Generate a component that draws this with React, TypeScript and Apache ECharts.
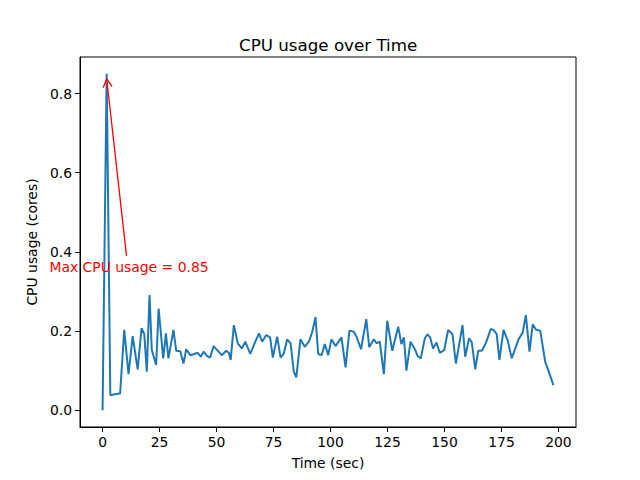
import React, { useEffect, useRef } from "react";
import * as echarts from "echarts";

const times: number[] = [
  0, 1.8, 3.4, 5.4, 7.7, 9.5, 11.4, 13.2, 15.4, 17.1, 18.3, 19.4, 20.6, 21.6, 23.5, 24.6, 26.6, 27.8, 28.9,
  31.1, 32.3, 34.1, 35.5, 36.7, 38.5, 40.2, 41.8, 43.1, 44.3, 45.8, 47.2, 48.7, 50.6, 52.3, 54.2, 55.4,
  56.2, 57.6, 59.3, 61.1, 62.6, 64.8, 66.7, 68.6, 70.0, 71.8, 73.5, 74.7, 76.6, 78.1, 79.5, 81.0, 82.5,
  83.9, 85.0, 86.8, 88.7, 90.5, 92.0, 93.4, 94.6, 96.1, 97.5, 99.0, 100.4, 102.2, 104.8, 106.6, 108.3,
  110.2, 111.4, 113.4, 115.7, 117.0, 119.0, 120.2, 121.6, 123.4, 124.9, 127.1, 129.7, 131.1, 132.2,
  133.3, 135.1, 137.0, 138.2, 139.6, 141.4, 142.5, 143.7, 145.0, 146.5, 147.9, 149.9, 151.6, 153.5,
  155.0, 157.9, 159.1, 160.8, 162.0, 163.5, 164.8, 166.4, 168.1, 170.3, 171.5, 172.9, 174.1, 175.9,
  177.8, 179.5, 181.0, 182.5, 184.3, 185.7, 187.3, 188.7, 190.2, 192.0, 194.2, 195.6, 197.8,
];

const cpuUsage: number[] = [
  0, 0.85, 0.038, 0.04, 0.042, 0.203, 0.091, 0.187, 0.103, 0.207, 0.192, 0.097, 0.291, 0.152, 0.114, 0.257,
  0.131, 0.194, 0.131, 0.203, 0.15, 0.149, 0.118, 0.154, 0.139, 0.142, 0.145, 0.135, 0.148, 0.137, 0.133,
  0.162, 0.15, 0.139, 0.15, 0.145, 0.127, 0.215, 0.169, 0.156, 0.173, 0.142, 0.169, 0.194, 0.173, 0.19,
  0.184, 0.133, 0.186, 0.133, 0.143, 0.179, 0.169, 0.097, 0.083, 0.179, 0.16, 0.173, 0.198, 0.235, 0.142,
  0.139, 0.167, 0.139, 0.179, 0.162, 0.184, 0.108, 0.201, 0.198, 0.186, 0.154, 0.23, 0.159, 0.179, 0.169,
  0.173, 0.091, 0.226, 0.15, 0.211, 0.167, 0.184, 0.1, 0.173, 0.154, 0.137, 0.131, 0.182, 0.192, 0.184,
  0.156, 0.171, 0.145, 0.152, 0.203, 0.192, 0.118, 0.215, 0.135, 0.182, 0.171, 0.103, 0.15, 0.15, 0.169,
  0.205, 0.203, 0.192, 0.127, 0.203, 0.175, 0.131, 0.155, 0.179, 0.196, 0.24, 0.148, 0.217, 0.203, 0.201,
  0.122, 0.1, 0.063,
];

const xTicks: number[] = [0, 25, 50, 75, 100, 125, 150, 175, 200];
const yTicks: number[] = [0, 0.2, 0.4, 0.6, 0.8];

// annotation: arrow from the label towards the maximum point
const arrowStart: [number, number] = [10.5, 0.39];
const arrowEnd: [number, number] = [2.0, 0.828];
const labelPos: [number, number] = [11.6, 0.362];
const annotationText = "Max CPU usage = 0.85";

const FONT = "DejaVu Sans";
const OPEN_ARROW = "path://M5,0 L10,8.6 L9,9.4 L5,2.6 L1,9.4 L0,8.6 Z";

export default function App() {
  const ref = useRef<HTMLDivElement>(null);
  useEffect(() => {
    if (!ref.current) return;
    const chart = echarts.init(ref.current, null, { renderer: "svg" });
    const data = times.map((t, i) => [t, cpuUsage[i]]);
    chart.setOption({
      animation: false,
      backgroundColor: "#ffffff",
      textStyle: { fontFamily: FONT },
      title: {
        text: "CPU usage over Time",
        left: 239,
        top: 36,
        padding: 0,
        textStyle: { fontFamily: FONT, fontSize: 16.7, fontWeight: "normal", color: "#000" },
      },
      grid: {
        left: 80,
        right: 64,
        top: 57,
        bottom: 53,
        show: true,
        borderColor: "#000",
        borderWidth: 1,
        backgroundColor: "transparent",
      },
      xAxis: {
        type: "value",
        min: -9.9,
        max: 207.7,
        name: "Time (sec)",
        nameLocation: "middle",
        nameGap: 29,
        nameTextStyle: { fontFamily: FONT, fontSize: 13.9, color: "#000" },
        axisLine: { show: true, onZero: false, lineStyle: { color: "#000", width: 1 } },
        axisTick: { show: true, inside: false, length: 5, customValues: xTicks, lineStyle: { color: "#000" } },
        axisLabel: {
          customValues: xTicks,
          fontFamily: FONT,
          fontSize: 13.9,
          color: "#000",
          margin: 8,
          formatter: (v: number) => String(Math.round(v)),
        },
        splitLine: { show: false },
      },
      yAxis: {
        type: "value",
        min: -0.0425,
        max: 0.8925,
        name: "CPU usage (cores)",
        nameLocation: "middle",
        nameGap: 38,
        nameTextStyle: { fontFamily: FONT, fontSize: 13.9, color: "#000" },
        axisLine: { show: true, onZero: false, lineStyle: { color: "#000", width: 1 } },
        axisTick: { show: true, inside: false, length: 5, customValues: yTicks, lineStyle: { color: "#000" } },
        axisLabel: {
          customValues: yTicks,
          fontFamily: FONT,
          fontSize: 13.9,
          color: "#000",
          margin: 8,
          formatter: (v: number) => v.toFixed(1),
        },
        splitLine: { show: false },
      },
      series: [
        {
          type: "line",
          data,
          showSymbol: false,
          symbol: "none",
          lineStyle: { color: "#1f77b4", width: 2 },
          itemStyle: { color: "#1f77b4" },
          markLine: {
            silent: true,
            symbol: ["none", OPEN_ARROW],
            symbolSize: 10,
            label: { show: false },
            itemStyle: { color: "#ff0000" },
            lineStyle: { color: "#ff0000", width: 1.3, type: "solid" },
            data: [[{ coord: arrowStart }, { coord: arrowEnd }]],
          },
          markPoint: {
            silent: true,
            data: [
              {
                coord: labelPos,
                symbol: "circle",
                symbolSize: 1,
                itemStyle: { color: "rgba(0,0,0,0)" },
                label: {
                  show: true,
                  position: "inside",
                  formatter: annotationText,
                  color: "#ff0000",
                  fontFamily: FONT,
                  fontSize: 13.9,
                },
              },
            ],
          },
        },
      ],
    });
    return () => chart.dispose();
  }, []);
  return (
    <div
      ref={ref}
      style={{ position: "fixed", left: 0, top: 0, width: 640, height: 480, background: "#fff" }}
    />
  );
}
